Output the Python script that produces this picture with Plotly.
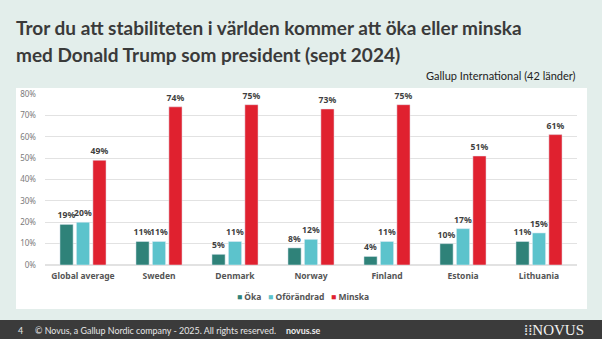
import plotly.graph_objects as go

categories = ["Global average", "Sweden", "Denmark", "Norway", "Finland", "Estonia", "Lithuania"]
oka = [19, 11, 5, 8, 4, 10, 11]
oforandrad = [20, 11, 11, 12, 11, 17, 15]
minska = [49, 74, 75, 73, 75, 51, 61]
series_names = ["Öka", "Oförändrad", "Minska"]
series_colors = ["#2f8279", "#5cc3cc", "#e0212f"]

W, H = 602, 339
L, R, T, B = 45, 25, 94, 74
pw, ph = W - L - R, H - T - B

def px(x):
    return (x - L) / pw

def py(y):
    return (H - B - y) / ph

fig = go.Figure()
for name, vals, col in zip(series_names, [oka, oforandrad, minska], series_colors):
    fig.add_trace(go.Bar(
        x=categories, y=vals, name=name, marker_color=col,
        text=[f"{v}%" for v in vals], texttemplate="%{text}",
        textposition="outside", constraintext="none", cliponaxis=False,
        textfont=dict(family="Noto Sans", size=8.6, color="#3f3f3f", weight="bold"),
        showlegend=False,
    ))

shapes = [
    dict(type="rect", xref="paper", yref="paper", x0=px(16), x1=px(587), y0=py(309), y1=py(88),
         fillcolor="white", line_width=0, layer="below"),
    dict(type="rect", xref="paper", yref="paper", x0=px(-5), x1=px(610), y0=py(345), y1=py(320),
         fillcolor="#3b3b3b", line_width=0, layer="below"),
]

legend_text = "&nbsp;&nbsp;&nbsp;".join(
    f"<span style='color:{c}'>■</span> {n}" for n, c in zip(series_names, series_colors)
)

title_font = dict(family="Lato", size=19, color="#3a3a3a", weight="bold")
footer_font = dict(family="Lato", size=8.9, color="#e6e6e6")

annotations = [
    dict(text="Tror du att stabiliteten i världen kommer att öka eller minska",
         xref="paper", yref="paper", x=px(14), y=py(28), xanchor="left", yanchor="middle",
         showarrow=False, font=title_font),
    dict(text="med Donald Trump som president (sept 2024)",
         xref="paper", yref="paper", x=px(14), y=py(55), xanchor="left", yanchor="middle",
         showarrow=False, font=title_font),
    dict(text="Gallup International (42 länder)", xref="paper", yref="paper", x=px(578), y=py(76),
         xanchor="right", yanchor="middle", showarrow=False,
         font=dict(family="Lato", size=11, color="#222222")),
    dict(text=legend_text, xref="paper", yref="paper", x=px(303), y=py(296),
         xanchor="center", yanchor="middle", showarrow=False,
         font=dict(family="Noto Sans", size=8.5, color="#555555", weight="bold")),
    dict(text="4", xref="paper", yref="paper", x=px(16), y=py(330), xanchor="left", yanchor="middle",
         showarrow=False, font=footer_font),
    dict(text="© Novus, a Gallup Nordic company - 2025. All rights reserved.", xref="paper", yref="paper",
         x=px(33), y=py(330), xanchor="left", yanchor="middle", showarrow=False, font=footer_font),
    dict(text="novus.se", xref="paper", yref="paper", x=px(284), y=py(330), xanchor="left", yanchor="middle",
         showarrow=False, font=dict(family="Lato", size=8.9, color="#eeeeee", weight="bold")),
    dict(text="⁞⁞NOVUS", xref="paper", yref="paper", x=px(586), y=py(330), xanchor="right", yanchor="middle",
         showarrow=False, font=dict(family="Liberation Serif", size=15, color="#f2f2f2")),
]

fig.update_layout(
    width=W, height=H,
    margin=dict(l=L, r=R, t=T, b=B, pad=0),
    paper_bgcolor="#e3eeeb", plot_bgcolor="white",
    barmode="group", bargap=0.35, bargroupgap=0.2,
    showlegend=False,
    shapes=shapes, annotations=annotations,
    xaxis=dict(tickfont=dict(family="Noto Sans", size=8.5, color="#555555", weight="bold"),
               showgrid=False, showline=False, ticks="", ticklabelstandoff=4),
    yaxis=dict(range=[0, 80], dtick=10, ticksuffix="%", showgrid=True, gridcolor="#e2e2e2",
               gridwidth=1, zeroline=True, zerolinecolor="#e2e2e2", showline=False,
               tickfont=dict(family="Noto Sans", size=8, color="#7a7a7a"), ticklabelstandoff=8),
)

fig.write_html("out.html")
